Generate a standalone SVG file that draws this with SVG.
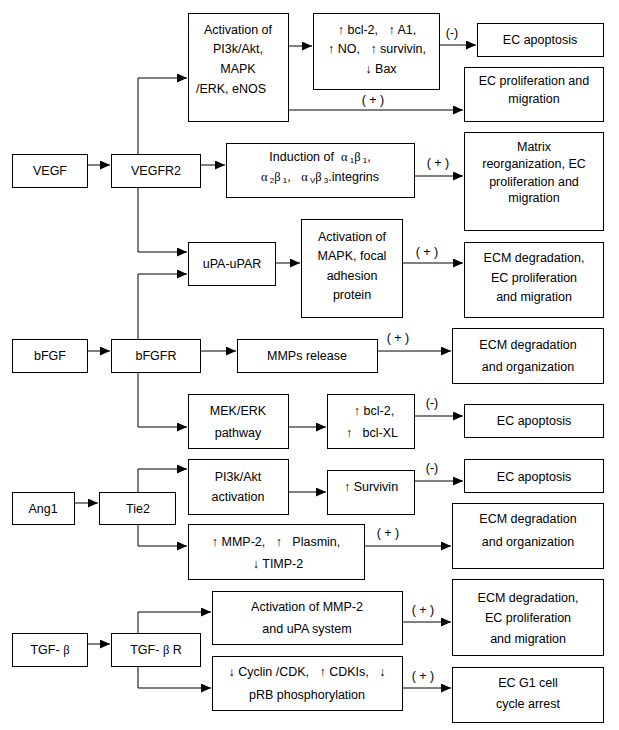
<svg xmlns="http://www.w3.org/2000/svg" width="619" height="730" viewBox="0 0 619 730">
<style>
rect{fill:#fff;stroke:#000;stroke-width:1}
text{font-family:"Liberation Sans",Arial,sans-serif;font-size:12.5px;fill:#000;text-anchor:middle;white-space:pre}
.c path{fill:none;stroke:#000;stroke-width:1;marker-end:url(#ah)}
.g{font-family:"Liberation Serif","DejaVu Serif",serif}
.s{font-size:8px}
</style>
<defs>
<marker id="ah" markerUnits="userSpaceOnUse" markerWidth="11" markerHeight="9" refX="10" refY="4.5" orient="auto"><path d="M0,0 L10,4.5 L0,9 z" fill="#000"/></marker>
</defs>
<rect x="0" y="0" width="619" height="730" style="stroke:none"/>
<g id="connectors" class="c">
<path d="M87.5,165 H110"/>
<path d="M200.5,165 H225"/>
<path d="M138,154 V78 H187"/>
<path d="M288.5,46 H312"/>
<path d="M288.5,110 H463"/>
<path d="M439.5,45 H476"/>
<path d="M414.5,176 H463"/>
<path d="M138,187 V252 H187"/>
<path d="M138,339 V274 H187"/>
<path d="M275.5,263 H300"/>
<path d="M402.5,263 H463"/>
<path d="M87.5,351 H110"/>
<path d="M200.5,351 H236"/>
<path d="M377.5,351 H451"/>
<path d="M138,372 V427 H187"/>
<path d="M288.5,427 H326"/>
<path d="M414.5,416 H463"/>
<path d="M74.5,503 H98"/>
<path d="M138,492 V469 H187"/>
<path d="M288.5,492 H326"/>
<path d="M414.5,481 H463"/>
<path d="M138,524 V546 H187"/>
<path d="M364.5,546 H451"/>
<path d="M87.5,644 H110"/>
<path d="M138,633 V612 H211"/>
<path d="M138,667 V688 H211"/>
<path d="M402.5,622 H451"/>
<path d="M402.5,688 H451"/>
</g>
<g id="labels">
<text x="452" y="37">(-)</text>
<text x="373" y="104">( + )</text>
<text x="438" y="167">( + )</text>
<text x="427" y="256">( + )</text>
<text x="398" y="342">( + )</text>
<text x="432" y="407">(-)</text>
<text x="432" y="472">(-)</text>
<text x="388" y="537">( + )</text>
<text x="423" y="614">( + )</text>
<text x="423" y="680">( + )</text>
</g>
<g id="VEGF"><rect x="12.5" y="154.5" width="75" height="33"/><text x="50" y="175">VEGF</text></g>
<g id="VEGFR2"><rect x="111.5" y="154.5" width="89" height="33"/><text x="156" y="175">VEGFR2</text></g>
<g id="act1"><rect x="188.5" y="13.5" width="100" height="108"/>
<text x="238" y="34">Activation of</text><text x="238" y="53">PI3k/Akt,</text><text x="238" y="73">MAPK</text><text x="231" y="93">/ERK, eNOS</text></g>
<g id="bcl1"><rect x="313.5" y="13.5" width="126" height="76"/>
<text x="377" y="34">↑ bcl-2,   ↑ A1,</text><text x="377" y="53">↑ NO,   ↑ survivin,</text><text x="381" y="73">↓ Bax</text></g>
<g id="apop1"><rect x="477.5" y="23.5" width="126" height="33"/><text x="540" y="44">EC apoptosis</text></g>
<g id="prolif1"><rect x="464.5" y="67.5" width="139" height="54"/><text x="534" y="85">EC proliferation and</text><text x="534" y="103">migration</text></g>
<g id="induction"><rect x="226.5" y="143.5" width="188" height="54"/>
<text x="320" y="161">Induction of  <tspan class="g">α</tspan><tspan class="s" dy="2"> 1</tspan><tspan class="g" dy="-2">β</tspan><tspan class="s" dy="2"> 1</tspan><tspan dy="-2">,</tspan></text>
<text x="320" y="181"><tspan class="g">α</tspan><tspan class="s" dy="2"> 2</tspan><tspan class="g" dy="-2">β</tspan><tspan class="s" dy="2"> 1</tspan><tspan dy="-2">,   </tspan><tspan class="g">α</tspan><tspan class="s" dy="2"> V</tspan><tspan class="g" dy="-2">β</tspan><tspan class="s" dy="2"> 3</tspan><tspan dy="-2">.integrins</tspan></text></g>
<g id="matrix"><rect x="464.5" y="132.5" width="139" height="98"/>
<text x="534" y="151">Matrix</text><text x="534" y="168">reorganization, EC</text><text x="534" y="186">proliferation and</text><text x="534" y="202">migration</text></g>
<g id="upa"><rect x="188.5" y="242.5" width="87" height="43"/><text x="232" y="268">uPA-uPAR</text></g>
<g id="act2"><rect x="301.5" y="219.5" width="101" height="98"/>
<text x="352" y="241">Activation of</text><text x="352" y="260">MAPK, focal</text><text x="352" y="280">adhesion</text><text x="352" y="299">protein</text></g>
<g id="ecm1"><rect x="464.5" y="242.5" width="139" height="75"/>
<text x="534" y="262">ECM degradation,</text><text x="534" y="282">EC proliferation</text><text x="534" y="301">and migration</text></g>
<g id="bFGF"><rect x="12.5" y="339.5" width="75" height="33"/><text x="50" y="360">bFGF</text></g>
<g id="bFGFR"><rect x="111.5" y="339.5" width="89" height="33"/><text x="156" y="360">bFGFR</text></g>
<g id="mmps"><rect x="237.5" y="339.5" width="140" height="33"/><text x="307" y="360">MMPs release</text></g>
<g id="ecm2"><rect x="452.5" y="328.5" width="151" height="55"/>
<text x="528" y="349">ECM degradation</text><text x="528" y="371">and organization</text></g>
<g id="mek"><rect x="188.5" y="394.5" width="100" height="54"/><text x="238" y="415">MEK/ERK</text><text x="238" y="437">pathway</text></g>
<g id="bcl2"><rect x="327.5" y="394.5" width="87" height="54"/><text x="374" y="415">↑ bcl-2,</text><text x="372" y="437">↑   bcl-XL</text></g>
<g id="apop2"><rect x="464.5" y="404.5" width="139" height="33"/><text x="534" y="425">EC apoptosis</text></g>
<g id="Ang1"><rect x="12.5" y="492.5" width="62" height="32"/><text x="43" y="513">Ang1</text></g>
<g id="Tie2"><rect x="99.5" y="492.5" width="76" height="32"/><text x="138" y="513">Tie2</text></g>
<g id="pi3k"><rect x="188.5" y="459.5" width="100" height="55"/><text x="238" y="481">PI3k/Akt</text><text x="238" y="501">activation</text></g>
<g id="survivin"><rect x="327.5" y="470.5" width="87" height="44"/><text x="371" y="491">↑ Survivin</text></g>
<g id="apop3"><rect x="464.5" y="459.5" width="139" height="33"/><text x="534" y="481">EC apoptosis</text></g>
<g id="mmp2"><rect x="188.5" y="524.5" width="176" height="55"/>
<text x="276" y="546">↑ MMP-2,   ↑   Plasmin,</text><text x="278" y="568">↓ TIMP-2</text></g>
<g id="ecm3"><rect x="452.5" y="503.5" width="151" height="65"/>
<text x="528" y="523">ECM degradation</text><text x="528" y="546">and organization</text></g>
<g id="TGFb"><rect x="12.5" y="633.5" width="75" height="33"/><text x="50" y="654">TGF- <tspan class="g">β</tspan></text></g>
<g id="TGFbR"><rect x="111.5" y="633.5" width="89" height="33"/><text x="156" y="654">TGF- <tspan class="g">β</tspan> R</text></g>
<g id="actmmp2"><rect x="212.5" y="591.5" width="190" height="53"/>
<text x="307" y="611">Activation of MMP-2</text><text x="307" y="633">and uPA system</text></g>
<g id="cyclin"><rect x="212.5" y="656.5" width="190" height="54"/>
<text x="307" y="676">↓ Cyclin /CDK,   ↑ CDKIs,   ↓</text><text x="307" y="699">pRB phosphorylation</text></g>
<g id="ecm4"><rect x="452.5" y="579.5" width="151" height="76"/>
<text x="528" y="602">ECM degradation,</text><text x="528" y="622">EC proliferation</text><text x="528" y="643">and migration</text></g>
<g id="g1"><rect x="452.5" y="667.5" width="151" height="55"/>
<text x="528" y="687">EC G1 cell</text><text x="528" y="708">cycle arrest</text></g>
</svg>
